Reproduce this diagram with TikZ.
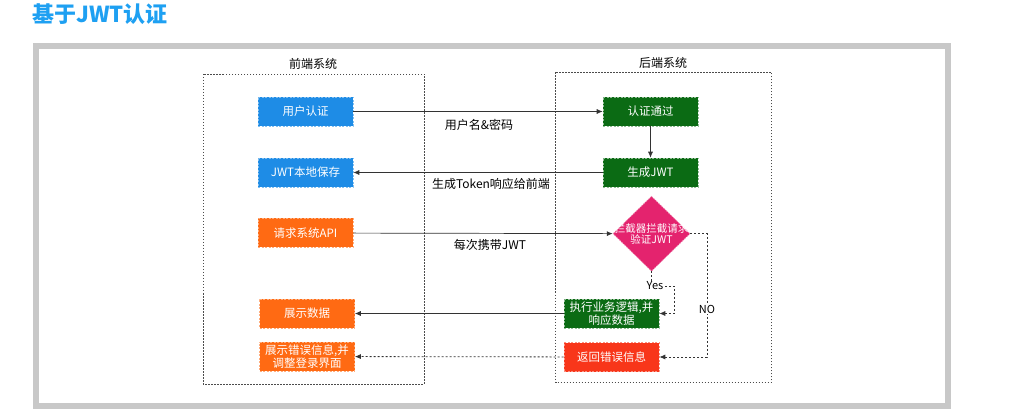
\documentclass[tikz,border=0pt]{standalone}
\usepackage{fontspec}
\setmainfont{Noto Sans CJK SC}
\usetikzlibrary{shapes.geometric,arrows.meta}
\definecolor{cblue}{HTML}{1E8CE6}
\definecolor{cgreen}{HTML}{0B6B14}
\definecolor{corange}{HTML}{FF6A13}
\definecolor{cred}{HTML}{F8361A}
\definecolor{cpink}{HTML}{E4236E}
\definecolor{ctitle}{HTML}{1EA0F2}
\definecolor{cframe}{HTML}{C8C8C8}
\definecolor{cline}{HTML}{333333}
\begin{document}
\begin{tikzpicture}[x=1pt,y=-1pt,
  box/.style={rectangle, minimum width=95pt, minimum height=29pt, inner sep=0pt,
    text=white, font=\fontsize{11.5}{13.5}\selectfont, align=center,
    dash pattern=on 2pt off 1.5pt, line width=0.6pt},
  bluebox/.style={box, fill=cblue, draw=cblue!55!white},
  greenbox/.style={box, fill=cgreen, draw=cgreen!45!white},
  orangebox/.style={box, fill=corange, draw=corange!55!white},
  redbox/.style={box, fill=cred, draw=cred!55!white},
  sysbox/.style={draw=black!70, line width=0.6pt, dash pattern=on 1.5pt off 1.5pt},
  syslabel/.style={font=\fontsize{12}{14}\selectfont, text=black},
  elabel/.style={font=\fontsize{12}{14}\selectfont, text=black, inner sep=1pt},
  small/.style={font=\fontsize{11}{13}\selectfont, text=black, inner sep=0.5pt, fill=white},
  arr/.style={draw=cline, line width=0.7pt, -{Latex[length=6pt,width=5pt]}},
  darr/.style={draw=cline, line width=0.8pt, dash pattern=on 2pt off 2pt, -{Latex[length=6pt,width=5pt]}}
]
\useasboundingbox (0,0) rectangle (1022,419);
\fill[white] (0,0) rectangle (1022,419);

% title
\node[anchor=west, text=ctitle, font=\fontsize{22}{26}\selectfont\bfseries, inner sep=0pt] (title) at (32,14) {基于JWT认证};

% frame
\draw[cframe, line width=6pt] (36,46) rectangle (948,406);

% system boxes
\draw[sysbox] (203,74) rectangle (424,384);
\draw[sysbox] (555.5,72.5) rectangle (771.5,382.5);
\node[syslabel] (fe) at (313,64) {前端系统};
\node[syslabel] (be) at (663,63) {后端系统};

% front-end nodes
\node[bluebox] (u1) at (305.5,111.5) {用户认证};
\node[bluebox] (u2) at (305.5,172.5) {JWT本地保存};
\node[orangebox] (u3) at (305.5,233) {请求系统API};
\node[orangebox] (u4) at (307,313.5) {展示数据};
\node[orangebox] (u5) at (307,356.5) {展示错误信息,并\\调整登录界面};

% back-end nodes
\node[greenbox] (b1) at (650.5,111.5) {认证通过};
\node[greenbox] (b2) at (650.5,172.5) {生成JWT};
\node[diamond, fill=cpink, draw=cpink!55!white, dash pattern=on 2pt off 1.5pt, line width=0.6pt,
      minimum width=77pt, minimum height=75pt, inner sep=0pt] (dia) at (651.5,233.7) {};
\node[text=white, font=\fontsize{10.5}{11}\selectfont, align=center, inner sep=0pt] (diat) at (651.5,234) {拦截器拦截请求\\验证JWT};
\node[greenbox] (b3) at (611.5,313.5) {执行业务逻辑,并\\响应数据};
\node[redbox] (b4) at (611.5,357) {返回错误信息};

% connectors
\draw[arr] (u1) -- (b1);
\node[elabel] (l1) at (479,125) {用户名\&密码};
\draw[arr] (b1) -- (b2);
\draw[arr] (b2) -- (u2);
\node[elabel] (l2) at (491,183.5) {生成Token响应给前端};
\draw[arr] (u3) -- (dia);
\node[elabel] (l3) at (490,244.5) {每次携带JWT};
\draw[arr] (b3) -- (u4);
\draw[darr] (b4) -- (u5);

\coordinate (yc) at (674,286);
\draw[darr] (dia.south) |- (yc) |- (b3.east);
\node[small] (yes) at (655,286) {Yes};

\coordinate (nc) at (707,233.7);
\draw[darr] (dia.east) -- (nc) |- (b4.east);
\node[small] (no) at (707,309) {NO};
\end{tikzpicture}
\end{document}
